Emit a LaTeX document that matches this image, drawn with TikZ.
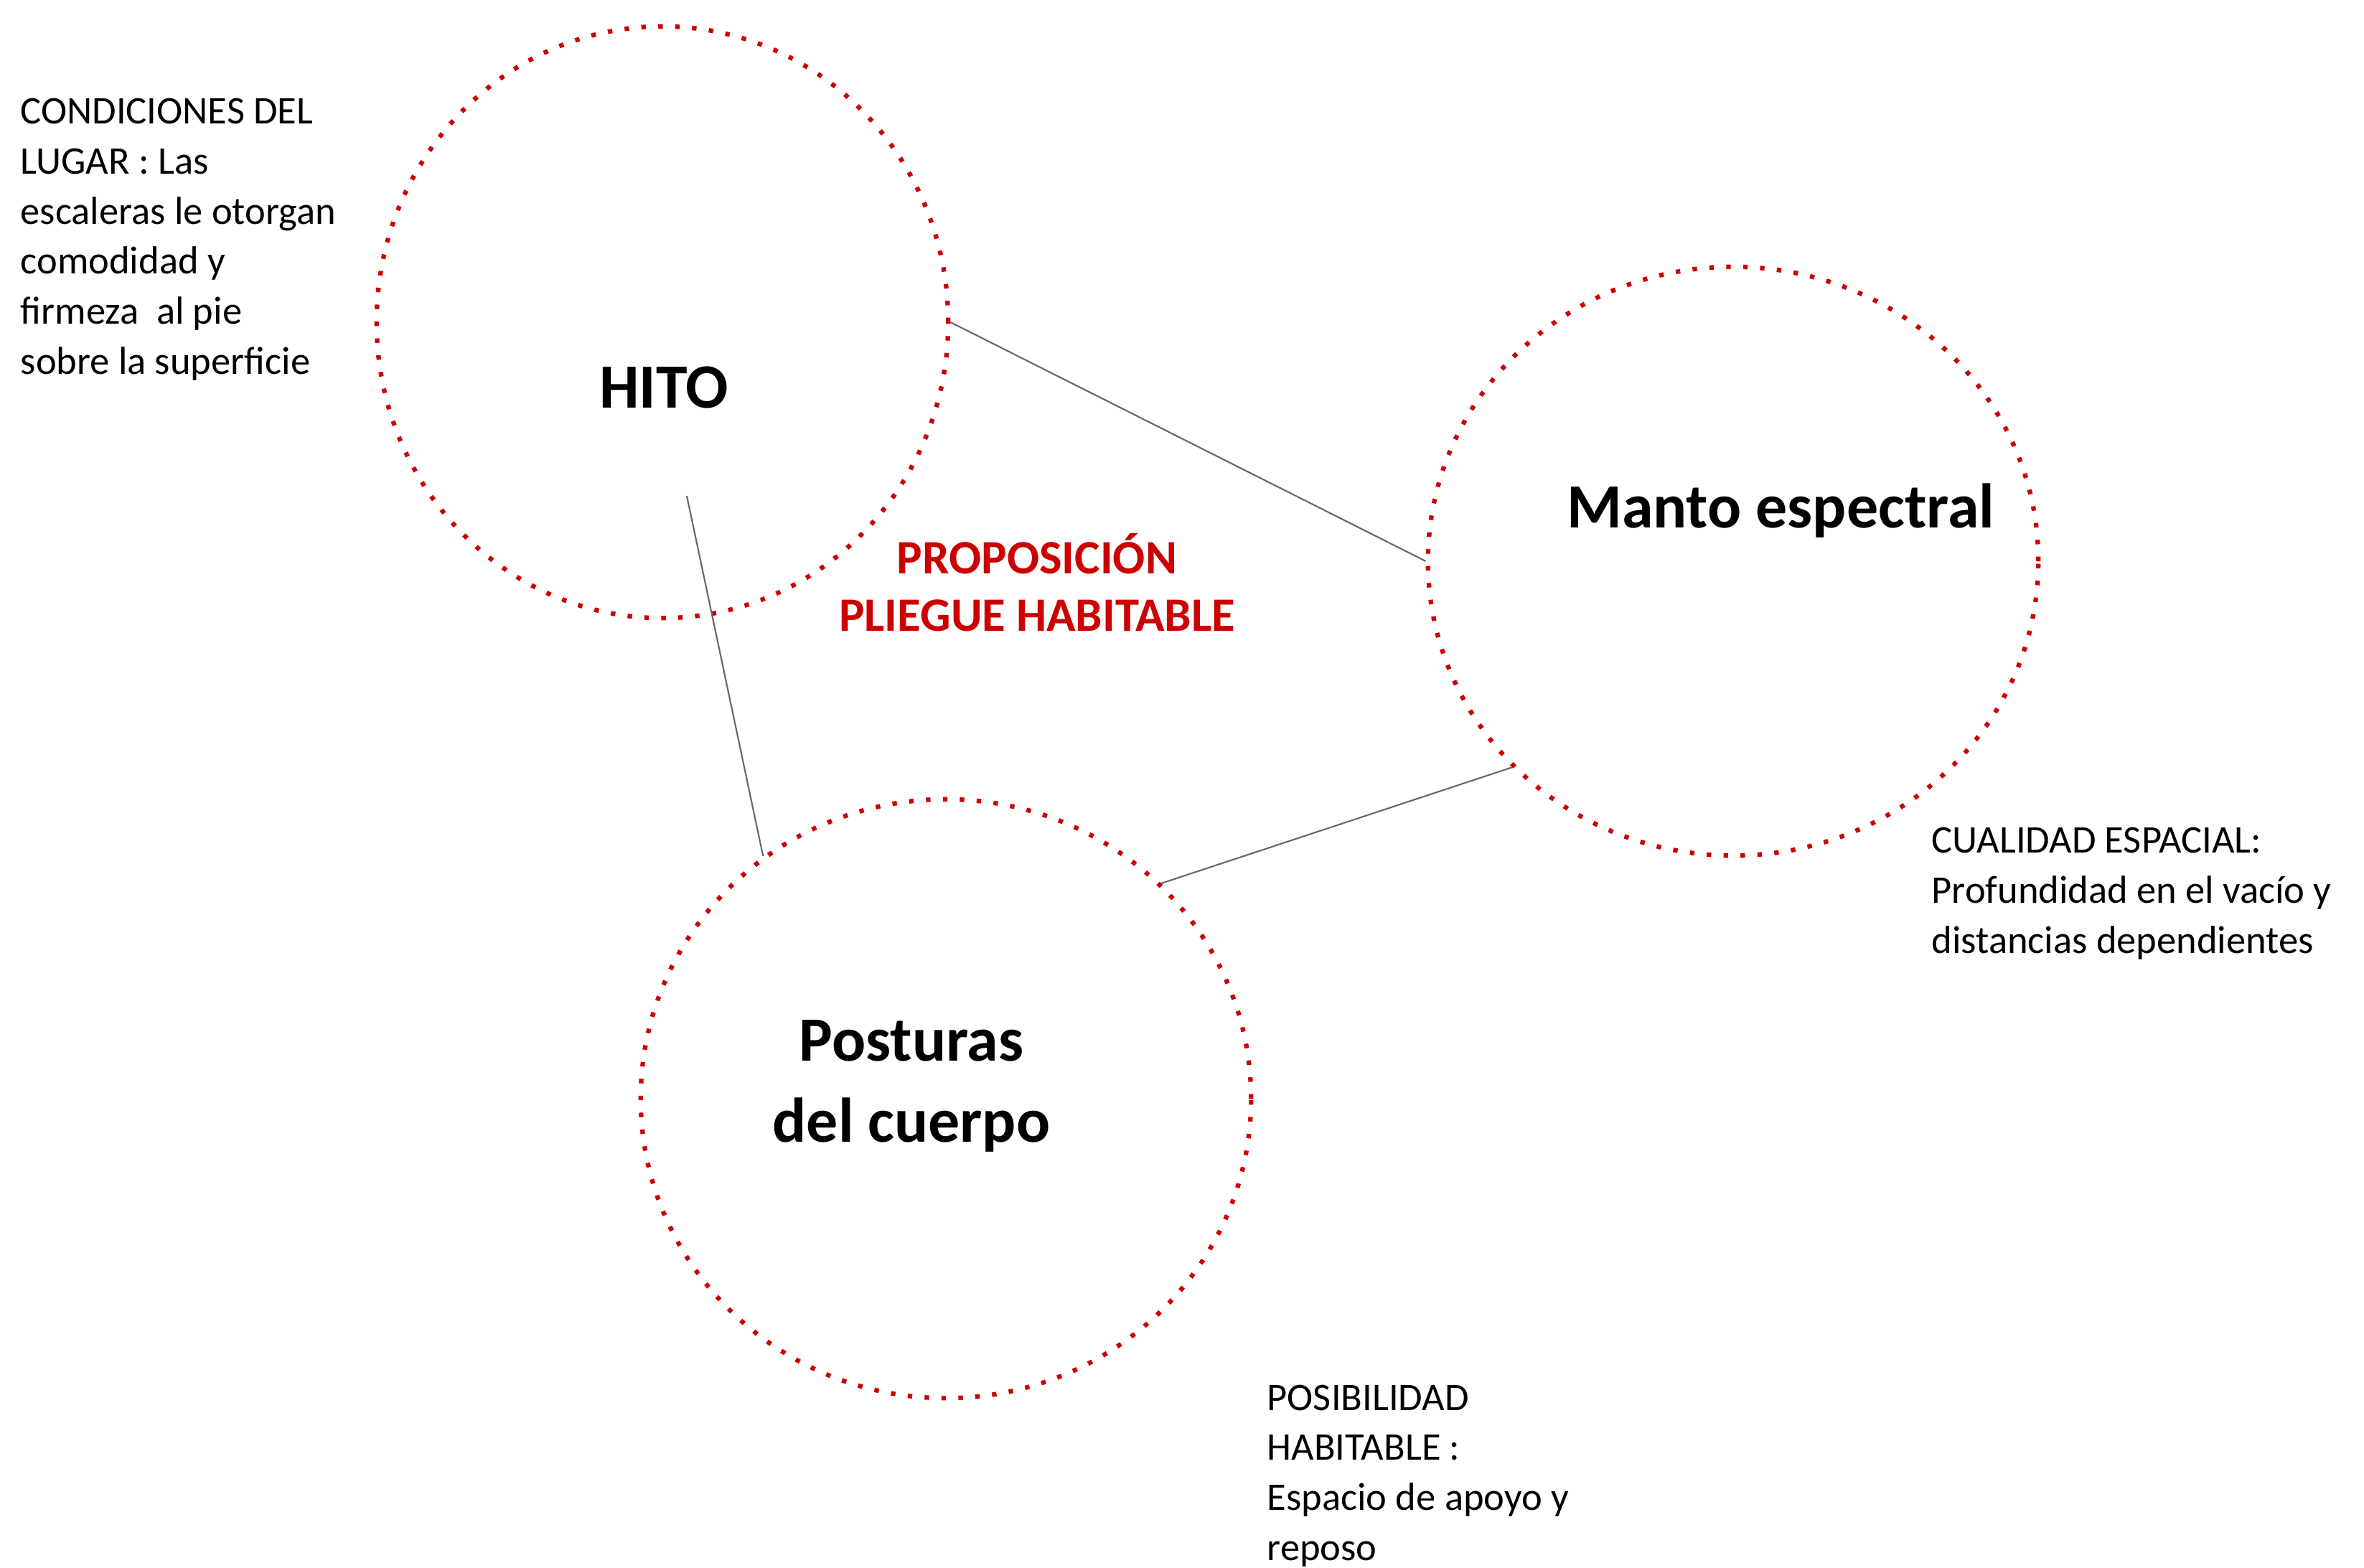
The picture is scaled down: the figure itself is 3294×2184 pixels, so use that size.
\documentclass[tikz,border=0pt]{standalone}
\usepackage{fontspec}
\setmainfont{Carlito}
\usetikzlibrary{shapes.geometric}
\definecolor{rojo}{RGB}{204,0,0}
\definecolor{gris}{RGB}{102,102,102}
\tikzset{
	circulo/.style={ellipse, draw=rojo, line width=1.8pt, dash pattern=on 1.8pt off 4.9pt, inner sep=0pt},
	enlace/.style={draw=gris, line width=0.6pt},
	titulo/.style={font=\fontsize{25}{31.9}\selectfont\bfseries, align=center, inner sep=0pt, anchor=base},
	nota/.style={font=\fontsize{15.5}{19.8}\selectfont, align=left, inner sep=0pt, anchor=base west},
}
\begin{document}
\begin{tikzpicture}[x=0.01cm, y=-0.01cm]
		\useasboundingbox (0,0) rectangle (3294,2184);
		
		\node[circulo, minimum width=7.96cm, minimum height=8.24cm] (hito) at (923,449) {};
		\node[circulo, minimum width=8.50cm, minimum height=8.20cm] (manto) at (2415,782) {};
		\node[circulo, minimum width=8.50cm, minimum height=8.34cm] (posturas) at (1318,1531) {};
		
		\coordinate (hitoPie) at (957,691);
		\draw[enlace] (hito.0) -- (manto.180);
		\draw[enlace] (hitoPie) -- (posturas.127);
		\draw[enlace] (posturas.45) -- (manto.223);
		
		\node[titulo] (hitoTxt) at (925,568) {HITO};
		\node[titulo] (mantoTxt) at (2481,735) {Manto espectral};
		\node[titulo] (posturasTxt) at (1270,1591) {Posturas\\del cuerpo};
		\node[titulo, text=rojo, font=\fontsize{19}{22.7}\selectfont\bfseries] (proposicion) at (1445,879) {PROPOSICIÓN\\PLIEGUE HABITABLE};
		
		\node[nota] (condiciones) at (28,521) {CONDICIONES DEL\\LUGAR : Las\\escaleras le otorgan\\comodidad y\\firmeza\ \ al pie\\sobre la superficie};
		\node[nota] (cualidad) at (2691,1328) {CUALIDAD ESPACIAL:\\Profundidad en el vacío y\\distancias dependientes};
		\node[nota] (posibilidad) at (1765,2174) {POSIBILIDAD\\HABITABLE :\\Espacio de apoyo y\\reposo};
\end{tikzpicture}
\end{document}
